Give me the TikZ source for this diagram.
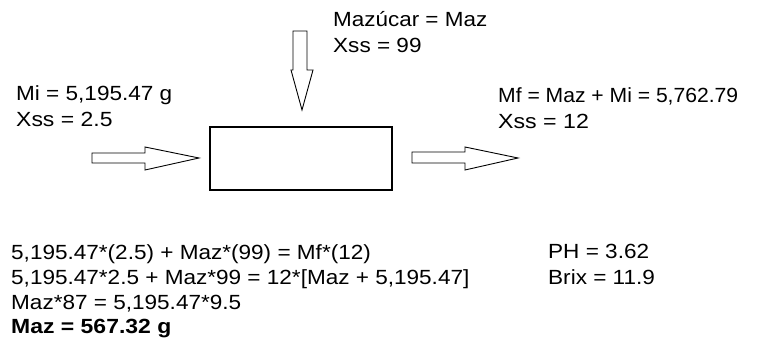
\documentclass[tikz,border=0pt]{standalone}
\usepackage{fontspec}
\setmainfont{Liberation Sans}
\begin{document}
\begin{tikzpicture}[x=1pt,y=-1pt,
  txt/.style={anchor=base west,inner sep=0pt,font=\fontsize{20.5}{24}\selectfont},
  blockarrow/.style={draw=black,line width=0.9pt,fill=white,line join=miter},
  boxstyle/.style={draw=black,line width=1.2pt}]
\useasboundingbox (0,0) rectangle (757,344);
% central box
\draw[boxstyle] (210,127) rectangle (392,190);
% input arrow (left)
\draw[blockarrow] (92,153) -- (145,153) -- (145,147) -- (199,158) -- (145,170) -- (145,163) -- (92,163) -- cycle;
% sugar arrow (top)
\draw[blockarrow] (293,31) -- (307,31) -- (307,70) -- (313,70) -- (302,110) -- (291,70) -- (293,70) -- cycle;
% output arrow (right)
\draw[blockarrow] (412,152) -- (465,152) -- (465,147) -- (518,158) -- (465,170) -- (465,163) -- (412,163) -- cycle;
% labels
\node[txt] (mi) at (16,101) {\scalebox{1.1}[1]{Mi = 5,195.47 g}};
\node[txt] (xi) at (16,127) {\scalebox{1.12}[1]{Xss = 2.5}};
\node[txt] (maz) at (333,26.5) {\scalebox{1.095}[1]{Mazúcar = Maz}};
\node[txt] (xaz) at (333,52.5) {\scalebox{1.1}[1]{Xss = 99}};
\node[txt] (mf) at (498,102.5) {\scalebox{1.03}[1]{Mf = Maz + Mi = 5,762.79}};
\node[txt] (xf) at (498,128.5) {\scalebox{1.13}[1]{Xss = 12}};
% equations
\node[txt] (e1) at (11,260) {\scalebox{1.1}[1]{5,195.47*(2.5) + Maz*(99) = Mf*(12)}};
\node[txt] (e2) at (11,285) {\scalebox{1.1}[1]{5,195.47*2.5 + Maz*99 = 12*[Maz + 5,195.47]}};
\node[txt] (e3) at (11,310) {\scalebox{1.1}[1]{Maz*87 = 5,195.47*9.5}};
\node[txt] (e4) at (11,334) {\scalebox{1.12}[1]{\bfseries Maz = 567.32 g}};
\node[txt] (ph) at (548,259) {\scalebox{1.1}[1]{PH = 3.62}};
\node[txt] (brix) at (548,285) {\scalebox{1.1}[1]{Brix = 11.9}};
\end{tikzpicture}
\end{document}
